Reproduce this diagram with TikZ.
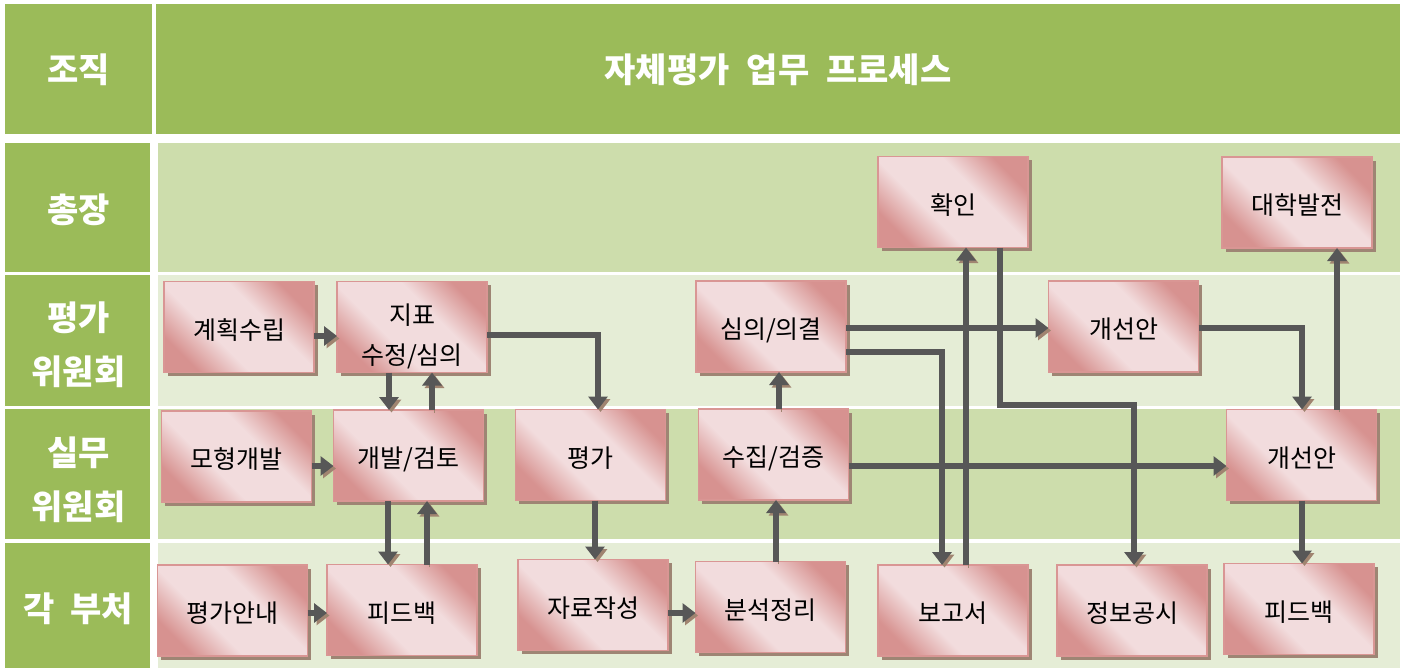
\documentclass[tikz,border=0pt]{standalone}
\usepackage{fontspec}
\setmainfont{Noto Sans CJK KR}
\usetikzlibrary{arrows.meta,shadows}
\definecolor{hdr}{HTML}{9BBB59}
\definecolor{rowdark}{HTML}{CDDDAC}
\definecolor{rowlight}{HTML}{E5EDD6}
\definecolor{bxlight}{HTML}{F2DCDD}
\definecolor{bxdark}{HTML}{D79290}
\definecolor{bxborder}{HTML}{D99694}
\definecolor{bxshadow}{HTML}{9E8574}
\definecolor{arrc}{HTML}{575757}
\definecolor{arrshadow}{HTML}{A08470}
\pgfdeclarehorizontalshading{boxshade}{100bp}{color(0bp)=(bxdark); color(25bp)=(bxdark); color(40bp)=(bxlight); color(60bp)=(bxlight); color(75bp)=(bxdark); color(100bp)=(bxdark)}
\tikzset{
  lab/.style={text=white, font=\bfseries\fontsize{34}{54}\selectfont, align=center},
  box/.style={draw=bxborder, line width=1.5pt, shading=boxshade, shading angle=45,
    minimum width=150pt, minimum height=91pt, inner sep=0pt, outer sep=0pt,
    font=\fontsize{25}{40}\selectfont, align=center, text height=24pt, text depth=0pt,
    general shadow={fill=bxshadow, shadow xshift=3.5pt, shadow yshift=-3.5pt}},
  arr/.style={draw=arrc, line width=6pt,
    -{Triangle[length=13pt,width=19pt]},
    preaction={draw=arrshadow, transform canvas={xshift=2.5pt,yshift=-2.5pt}}}
}
\begin{document}
\begin{tikzpicture}[x=1pt,y=-1pt]
\useasboundingbox (0,0) rectangle (1406,669);
\fill[white] (0,0) rectangle (1406,669);
% header
\fill[hdr] (5,4) rectangle (152,134);
\fill[hdr] (156,4) rectangle (1400,134);
\node[lab] (horg) at (78.5,70) {조직};
\node[lab] (htitle) at (778,70) {자체평가\hspace{0.5em}업무\hspace{0.5em}프로세스};
% rows
\fill[hdr] (5,143) rectangle (150,272);
\fill[rowdark] (158,143) rectangle (1400,272);
\fill[hdr] (5,275) rectangle (150,406);
\fill[rowlight] (158,275) rectangle (1400,406);
\fill[hdr] (5,409) rectangle (150,539);
\fill[rowdark] (158,409) rectangle (1400,539);
\fill[hdr] (5,543) rectangle (150,668);
\fill[rowlight] (158,543) rectangle (1400,668);
\node[lab] (r1) at (78.5,210) {총장};
\node[lab] (r2) at (78.5,345) {평가\\위원회};
\node[lab] (r3) at (78.5,480) {실무\\위원회};
\node[lab] (r4) at (78.5,609) {각\hspace{0.45em}부처};
% boxes
\node[box] (hwagin) at (953,202) {확인};
\node[box] (daehak) at (1297,202.5) {대학발전};
\node[box] (gyehoek) at (239,327) {계획수립};
\node[box, text height=74pt] (jipyo) at (412,327) {지표\\수정/심의};
\node[box] (simui) at (771,326.5) {심의/의결};
\node[box] (gaeseonA) at (1123.5,326.5) {개선안};
\node[box] (mohyeong) at (236.5,456.5) {모형개발};
\node[box] (gaebal) at (408.5,455.5) {개발/검토};
\node[box] (pyeongga) at (590.5,455) {평가};
\node[box] (sujip) at (773.5,454.5) {수집/검증};
\node[box] (gaeseonB) at (1301.5,455) {개선안};
\node[box] (annae) at (232.5,610.5) {평가안내};
\node[box] (feedA) at (402,610) {피드백};
\node[box] (jaryo) at (593,605) {자료작성};
\node[box] (bunseok) at (770.5,607) {분석정리};
\node[box] (bogo) at (953,610.5) {보고서};
\node[box] (jeongbo) at (1132,610.5) {정보공시};
\node[box] (feedB) at (1299,609) {피드백};
% connectors
\draw[arr] (gyehoek.east |- 0,336) -- (jipyo.west |- 0,336);
\draw[arr] (jipyo.south -| 389,0) -- (gaebal.north -| 389,0);
\draw[arr] (gaebal.north -| 432,0) -- (jipyo.south -| 432,0);
\draw[arr] (jipyo.east |- 0,335) -| (pyeongga.north -| 598,0);
\draw[arr] (mohyeong.east |- 0,466) -- (gaebal.west |- 0,466);
\draw[arr] (gaebal.south -| 388,0) -- (feedA.north -| 388,0);
\draw[arr] (feedA.north -| 427,0) -- (gaebal.south -| 427,0);
\draw[arr] (annae.east |- 0,613) -- (feedA.west |- 0,613);
\draw[arr] (pyeongga.south -| 595,0) -- (jaryo.north -| 595,0);
\draw[arr] (jaryo.east |- 0,613) -- (bunseok.west |- 0,613);
\draw[arr] (bunseok.north -| 776,0) -- (sujip.south -| 776,0);
\draw[arr] (sujip.north -| 779,0) -- (simui.south -| 779,0);
\draw[arr] (simui.east |- 0,352) -| (bogo.north -| 942,0);
\draw[arr] (bogo.north -| 966,0) -- (hwagin.south -| 966,0);
\draw[arr] (hwagin.south -| 1000,0) |- (1134,405) -- (jeongbo.north -| 1134,0);
\draw[arr] (simui.east |- 0,328) -- (gaeseonA.west |- 0,328);
\draw[arr] (gaeseonA.east |- 0,328) -| (gaeseonB.north -| 1302,0);
\draw[arr] (gaeseonB.north -| 1337,0) -- (daehak.south -| 1337,0);
\draw[arr] (sujip.east |- 0,466) -- (gaeseonB.west |- 0,466);
\draw[arr] (gaeseonB.south -| 1302,0) -- (feedB.north -| 1302,0);
\end{tikzpicture}
\end{document}
